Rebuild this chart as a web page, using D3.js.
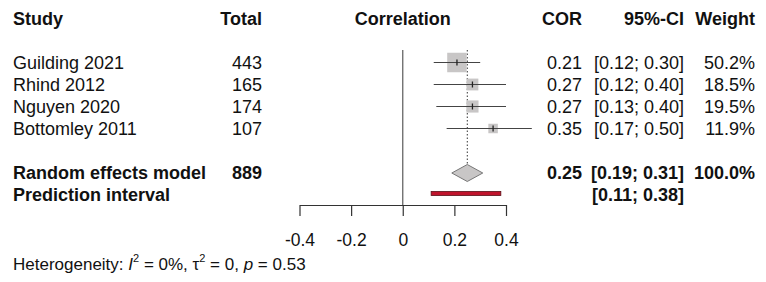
<!DOCTYPE html>
<html>
<head>
<meta charset="utf-8">
<script src="https://cdn.jsdelivr.net/npm/d3@7"></script>
<style>
  body { margin: 0; background: #fff; }
  text { font-family: "Liberation Sans", Arial, sans-serif; fill: #111; }
</style>
</head>
<body>
<script>
// study level data
var studies = ["Guilding 2021", "Rhind 2012", "Nguyen 2020", "Bottomley 2011"];
var totals = [443, 165, 174, 107];
var cor = [0.21, 0.27, 0.27, 0.35];
var lower = [0.12, 0.12, 0.13, 0.17];
var upper = [0.30, 0.40, 0.40, 0.50];
var weights = [50.2, 18.5, 19.5, 11.9];

// pooled results
var reTotal = 889, reCor = 0.25, reLower = 0.19, reUpper = 0.31;
var piLower = 0.11, piUpper = 0.38;
var ticks = [-0.4, -0.2, 0, 0.2, 0.4];

var width = 766, height = 282;
var svg = d3.select("body").append("svg")
    .attr("width", width)
    .attr("height", height);

// x scale for correlation, rows on a band-ish linear scale
var x = d3.scaleLinear().domain([-0.4, 0.4]).range([299.5, 506]);
var rowY = d3.scaleLinear().domain([0, 1]).range([25, 47]); // baseline of row i
var fs = 18;

function fmt(v){ return d3.format(".2f")(v); }
function ci(l, u){ return "[" + fmt(l) + "; " + fmt(u) + "]"; }

// header
var head = svg.append("g").attr("font-weight", "bold").attr("font-size", fs);
head.append("text").attr("x", 13).attr("y", rowY(0)).text("Study");
head.append("text").attr("x", 262).attr("y", rowY(0)).attr("text-anchor", "end").text("Total");
head.append("text").attr("x", x(0)).attr("y", rowY(0)).attr("text-anchor", "middle").text("Correlation");
head.append("text").attr("x", 582).attr("y", rowY(0)).attr("text-anchor", "end").text("COR");
head.append("text").attr("x", 684).attr("y", rowY(0)).attr("text-anchor", "end").text("95%-CI");
head.append("text").attr("x", 755).attr("y", rowY(0)).attr("text-anchor", "end").text("Weight");

// study rows
var rows = svg.append("g").attr("font-size", fs);
studies.forEach(function(s, i){
  var y = rowY(i + 2);
  rows.append("text").attr("x", 13).attr("y", y).text(s);
  rows.append("text").attr("x", 262).attr("y", y).attr("text-anchor", "end").text(totals[i]);
  rows.append("text").attr("x", 582).attr("y", y).attr("text-anchor", "end").text(fmt(cor[i]));
  rows.append("text").attr("x", 684).attr("y", y).attr("text-anchor", "end").text(ci(lower[i], upper[i]));
  rows.append("text").attr("x", 755).attr("y", y).attr("text-anchor", "end").text(weights[i].toFixed(1) + "%");
});

// pooled rows
var pooled = svg.append("g").attr("font-size", fs).attr("font-weight", "bold");
pooled.append("text").attr("x", 13).attr("y", rowY(7)).text("Random effects model");
pooled.append("text").attr("x", 262).attr("y", rowY(7)).attr("text-anchor", "end").text(reTotal);
pooled.append("text").attr("x", 582).attr("y", rowY(7)).attr("text-anchor", "end").text(fmt(reCor));
pooled.append("text").attr("x", 684).attr("y", rowY(7)).attr("text-anchor", "end").text(ci(reLower, reUpper));
pooled.append("text").attr("x", 755).attr("y", rowY(7)).attr("text-anchor", "end").text("100.0%");
pooled.append("text").attr("x", 13).attr("y", rowY(8)).text("Prediction interval");
pooled.append("text").attr("x", 684).attr("y", rowY(8)).attr("text-anchor", "end").text(ci(piLower, piUpper));

var axisY = 205;
var mid = function(i){ return rowY(i) - 6.5; };

// null line and pooled estimate line
svg.append("line").attr("x1", x(0)).attr("x2", x(0)).attr("y1", 50).attr("y2", axisY)
  .attr("stroke", "#666").attr("stroke-width", 1.3);
svg.append("line").attr("x1", x(reCor)).attr("x2", x(reCor)).attr("y1", 50).attr("y2", mid(7) - 8)
  .attr("stroke", "#333").attr("stroke-width", 1).attr("stroke-dasharray", "1.5,2");

// squares sized by weight (area ~ weight)
var side = d3.scaleSqrt().domain([0, d3.max(weights)]).range([0, 19.5]);
var marks = svg.append("g");
studies.forEach(function(s, i){
  var cy = mid(i + 2), w = side(weights[i]);
  marks.append("rect").attr("x", x(cor[i]) - w / 2).attr("y", cy - w / 2)
    .attr("width", w).attr("height", w).attr("fill", "#c8c6c6");
  marks.append("line").attr("x1", x(lower[i])).attr("x2", x(upper[i]))
    .attr("y1", cy).attr("y2", cy).attr("stroke", "#444").attr("stroke-width", 1.2);
  marks.append("line").attr("x1", x(cor[i])).attr("x2", x(cor[i]))
    .attr("y1", cy - 3).attr("y2", cy + 3).attr("stroke", "#222").attr("stroke-width", 1.3);
});

// diamond
var dy = mid(7) + 0.5;
svg.append("path")
  .attr("d", "M" + x(reLower) + "," + dy + "L" + x(reCor) + "," + (dy - 8.5) +
    "L" + x(reUpper) + "," + dy + "L" + x(reCor) + "," + (dy + 8.5) + "Z")
  .attr("fill", "#c8c6c6").attr("stroke", "#777").attr("stroke-width", 1);

// prediction interval bar
svg.append("rect").attr("x", x(piLower)).attr("y", 191.5)
  .attr("width", x(piUpper) - x(piLower)).attr("height", 4)
  .attr("fill", "#c0142c").attr("stroke", "#5a1018").attr("stroke-width", 0.8);

// axis
var axis = d3.axisBottom(x).tickValues(ticks).tickSize(11).tickSizeOuter(0)
  .tickFormat(function(d){ return d === 0 ? "0" : d3.format(".1f")(d).replace("\u2212", "-"); });
var g = svg.append("g").attr("transform", "translate(0," + axisY + ")").call(axis);
g.select(".domain").attr("stroke", "#333").attr("stroke-width", 1.2);
g.selectAll(".tick line").attr("stroke", "#333").attr("stroke-width", 1.2);
g.selectAll(".tick text").attr("font-size", 17.5).attr("fill", "#111")
  .attr("font-family", "Liberation Sans, Arial, sans-serif").attr("dy", null).attr("y", 41);

// heterogeneity
var het = svg.append("text").attr("x", 13).attr("y", 270).attr("font-size", 17);
het.append("tspan").text("Heterogeneity: ");
het.append("tspan").attr("font-style", "italic").text("I");
het.append("tspan").attr("font-size", 11).attr("dy", -8).text("2");
het.append("tspan").attr("dy", 8).text(" = 0%, \u03c4");
het.append("tspan").attr("font-size", 11).attr("dy", -8).text("2");
het.append("tspan").attr("dy", 8).text(" = 0, ");
het.append("tspan").attr("font-style", "italic").text("p");
het.append("tspan").text(" = 0.53");
</script>
</body>
</html>
